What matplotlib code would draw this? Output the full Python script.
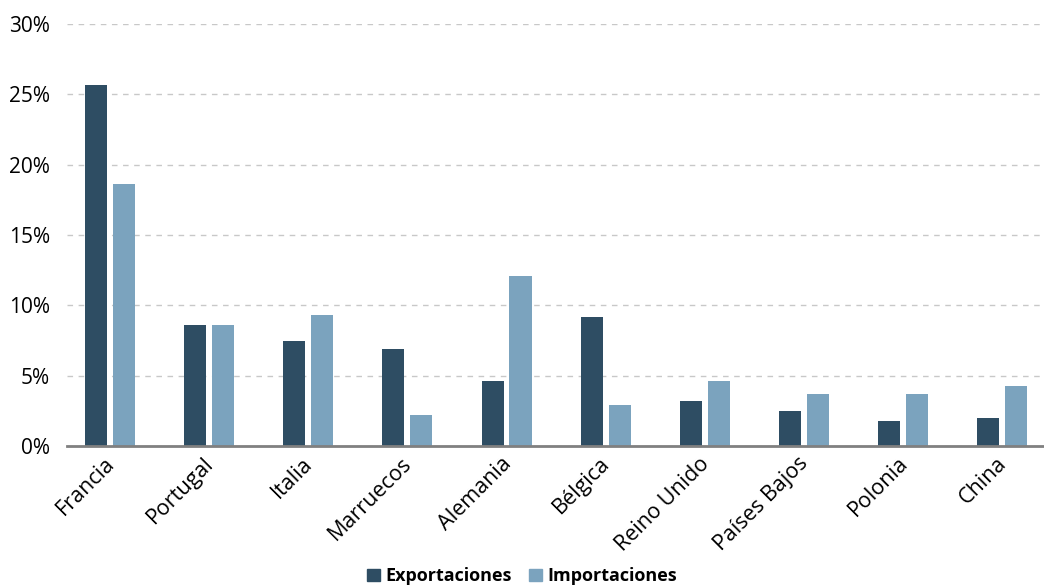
import matplotlib.pyplot as plt
import matplotlib.transforms as mtransforms
import numpy as np
from matplotlib.patches import Patch

plt.rcParams["font.family"] = ["Open Sans", "DejaVu Sans"]

paises = ["Francia", "Portugal", "Italia", "Marruecos", "Alemania",
          "Bélgica", "Reino Unido", "Países Bajos", "Polonia", "China"]
exportaciones = [25.7, 8.6, 7.5, 6.9, 4.6, 9.2, 3.2, 2.5, 1.8, 2.0]
importaciones = [18.6, 8.6, 9.3, 2.2, 12.1, 2.9, 4.6, 3.7, 3.7, 4.3]
yticks = [0, 5, 10, 15, 20, 25, 30]

c_exp = "#2E4D63"
c_imp = "#7BA3BE"

fig = plt.figure(figsize=(10.44, 5.87), dpi=100)
ax = fig.add_axes([0.064, 0.240, 0.936, 0.719])

x = np.arange(len(paises))
w = 0.222
ax.bar(x - 0.141, exportaciones, w, color=c_exp, zorder=3)
ax.bar(x + 0.141, importaciones, w, color=c_imp, zorder=3)

ax.set_xlim(-0.434, 9.42)
ax.set_ylim(0, 30)
ax.set_yticks(yticks)
ax.set_yticklabels([f"{v}%" for v in yticks], fontsize=15)
ax.yaxis.grid(True, linestyle=(0, (4, 4)), color="#c8c8c8", linewidth=1, zorder=0)
ax.tick_params(axis="y", length=0, pad=12)
ax.tick_params(axis="x", length=0, pad=5)
ax.set_xticks(x)
ax.set_xticklabels(paises, rotation=45, ha="right", rotation_mode="anchor", fontsize=15.5)
shift = mtransforms.ScaledTranslation(-6 / 100, 0, fig.dpi_scale_trans)
for lbl in ax.get_xticklabels():
    lbl.set_transform(lbl.get_transform() + shift)

for s in ["top", "right", "left"]:
    ax.spines[s].set_visible(False)
ax.spines["bottom"].set_color("#808080")
ax.spines["bottom"].set_linewidth(2)
ax.spines["bottom"].set_zorder(4)

handles = [Patch(color=c_exp, label="Exportaciones"),
           Patch(color=c_imp, label="Importaciones")]
fig.legend(handles=handles, loc="lower center", bbox_to_anchor=(0.5, -0.025),
           ncol=2, frameon=False, handlelength=0.7, handleheight=0.7,
           handletextpad=0.3, columnspacing=1.0,
           prop={"weight": "bold", "size": 13})

fig.savefig("out.png", dpi=100)
